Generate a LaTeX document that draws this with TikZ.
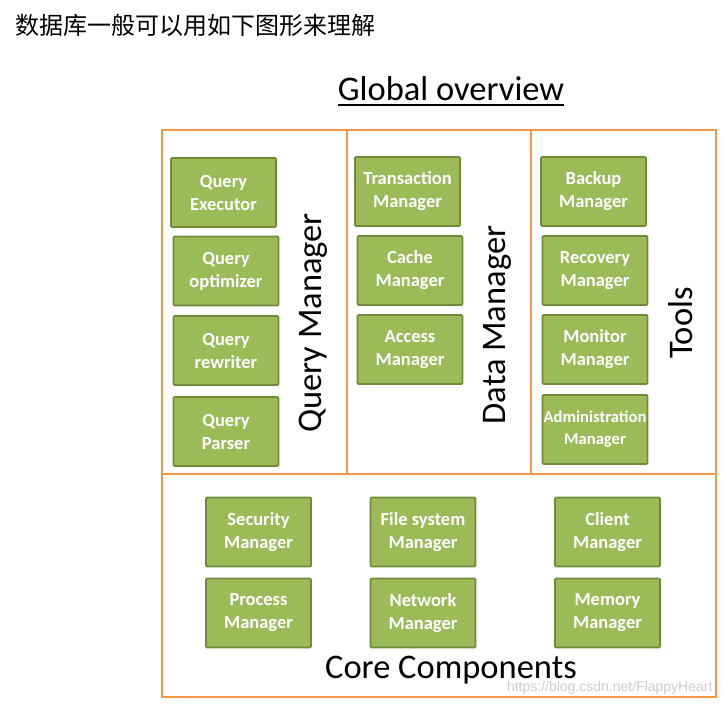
\documentclass[tikz,border=0pt]{standalone}
\usepackage{fontspec}
\setmainfont{Carlito}
\newfontfamily\cjk{Noto Sans CJK SC}
\newfontfamily\wmfont{Liberation Sans}
\definecolor{frameorange}{HTML}{F79646}
\definecolor{boxgreen}{HTML}{9BBB59}
\definecolor{boxborder}{HTML}{6E8A3A}
\tikzset{
  module/.style={draw=boxborder, line width=1.6pt, fill=boxgreen, rounded corners=1pt,
    minimum width=105pt, minimum height=69pt, inner sep=0pt, align=center,
    text=white, font=\bfseries\fontsize{18.5}{23}\selectfont},
  part/.style={font=\fontsize{34.5}{40}\selectfont, rotate=90}
}
\begin{document}
\begin{tikzpicture}[x=1pt, y=-1pt]
\useasboundingbox (0,0) rectangle (723,705);

% Titles

\node [anchor=west] (intro) at (12,25) {\cjk\fontsize{24}{27}\selectfont 数据库一般可以用如下图形来理解};

\node (overview) at (451,89) {\fontsize{34.5}{40}\selectfont Global overview};
\draw [line width=1.2pt] (338,105) -- (564,105);

% Frame

\draw [frameorange, line width=2.8pt] (162,130) rectangle (716,697);
\draw [frameorange, line width=2.2pt] (347,130) -- (347,474);
\draw [frameorange, line width=2.8pt] (531,130) -- (531,474);
\draw [frameorange, line width=2.8pt] (162,474) -- (716,474);

% Query Manager
\node [module] (qexec) at (223.5,192.5) {Query\\Executor};
\node [module] (qopt) at (226,271) {Query\\optimizer};
\node [module] (qrw) at (226,350.5) {Query\\rewriter};
\node [module] (qparse) at (226,431.5) {Query\\Parser};
\node [part] (qm) at (313,323) {Query Manager};

% Data Manager
\node [module] (trans) at (407.5,191.5) {Transaction\\Manager};
\node [module] (cache) at (410,270.5) {Cache\\Manager};
\node [module] (access) at (410,349.5) {Access\\Manager};
\node [part] (dm) at (497,325) {Data Manager};

% Tools
\node [module] (backup) at (593.5,191.5) {Backup\\Manager};
\node [module] (recov) at (595,270.5) {Recovery\\Manager};
\node [module] (monit) at (595,349.5) {Monitor\\Manager};
\node [module, font=\bfseries\fontsize{16.6}{22}\selectfont] (admin) at (595,429.5) {Administration\\Manager};
\node [part] (tools) at (681,323) {Tools};

% Core Components
\node [module] (secu) at (258.5,532) {Security\\Manager};
\node [module] (proc) at (258.5,613) {Process\\Manager};
\node [module] (files) at (423,532) {File system\\Manager};
\node [module] (netw) at (423,613) {Network\\Manager};
\node [module] (client) at (607.5,532) {Client\\Manager};
\node [module] (memo) at (607.5,613) {Memory\\Manager};
\node (core) at (451,670) {\fontsize{34.5}{40}\selectfont Core Components};

\node [anchor=east, text=gray!40] (mark) at (716,688) {\wmfont\fontsize{14}{16}\selectfont https://blog.csdn.net/FlappyHeart};
\end{tikzpicture}
\end{document}
